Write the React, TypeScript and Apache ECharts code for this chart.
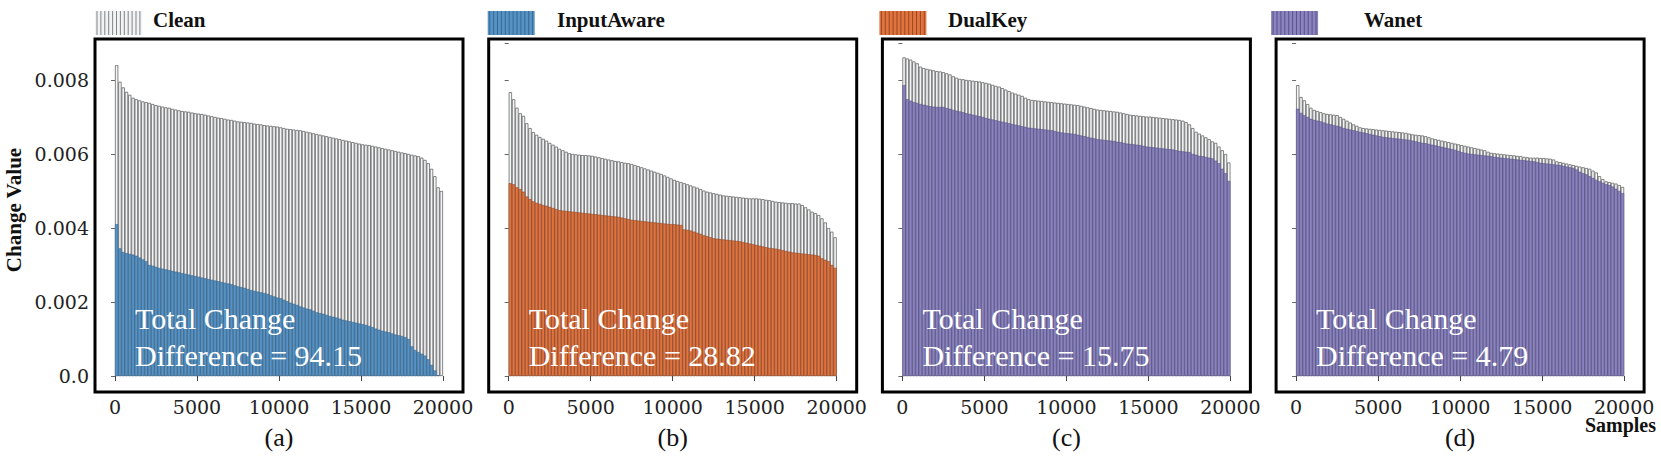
import React, { useEffect, useRef } from "react";
import * as echarts from "echarts";

// values in units of 1e-5
const clean1 = [840,795,780,768,760,752,748,745,742,740,738,735,732,730,728,726,725,722,720,718,716,715,714,712,710,709,708,706,704,702,700,698,697,695,693,692,690,688,687,686,685,684,682,681,680,678,677,676,675,674,672,670,668,667,666,665,664,662,660,658,656,654,652,650,648,646,644,642,640,638,636,634,632,630,628,626,625,624,622,620,618,616,614,612,610,608,606,604,602,600,598,596,594,590,584,575,560,540,510,500];
const inputAware = [410,345,335,332,330,328,325,320,315,310,300,298,295,292,290,288,286,284,282,280,278,276,274,272,270,268,266,264,262,260,258,256,254,252,250,248,245,242,240,238,235,232,230,228,226,224,222,218,215,212,210,206,202,198,195,192,188,185,182,180,176,172,170,168,165,162,160,158,155,152,150,148,146,144,142,140,138,135,132,128,125,122,120,118,115,112,110,108,105,100,80,70,65,60,55,45,30,15,2,-5];
const clean2 = [767,748,725,710,703,683,670,659,652,646,641,636,630,625,620,614,610,606,602,600,599,598,597,597,596,595,593,591,589,587,585,583,581,580,578,576,575,573,570,567,564,561,558,555,552,549,546,542,538,534,530,527,524,521,518,515,512,509,505,501,498,496,494,492,490,488,487,486,485,484,483,482,481,480,480,480,479,478,476,475,473,471,470,469,468,467,467,466,466,462,456,450,444,440,435,426,415,400,390,375];
const dualKey = [521,518,510,505,498,485,478,472,468,465,462,460,457,454,451,448,447,446,445,444,443,442,441,440,439,438,437,436,435,434,433,432,431,430,428,426,424,422,421,420,419,418,417,416,415,414,413,412,411,410,410,409,408,396,395,393,390,387,384,380,378,375,372,371,370,369,368,367,366,365,364,362,360,358,356,354,352,350,348,346,345,344,342,340,338,336,334,333,332,331,330,329,328,327,325,318,314,310,300,292];
const clean3 = [861,858,855,850,845,836,832,830,828,826,824,823,821,818,815,810,806,803,802,800,799,798,797,796,794,792,790,787,784,782,778,774,770,766,763,760,757,752,748,746,745,744,743,742,741,740,739,738,737,736,735,734,733,732,730,728,726,724,722,720,719,718,717,716,715,714,712,710,708,706,705,704,703,702,701,701,700,699,698,697,696,695,694,693,692,690,686,680,670,660,655,650,645,640,634,630,620,610,600,577];
const wanet3 = [786,748,744,740,738,735,733,731,729,728,727,727,727,724,722,719,717,715,713,710,708,706,704,702,700,697,695,693,691,689,687,685,683,681,679,677,675,673,671,670,669,668,667,666,665,664,662,660,658,657,656,655,654,652,650,648,646,644,642,640,639,638,637,636,635,633,632,630,628,627,626,625,624,622,620,619,618,617,616,615,614,613,612,610,608,607,606,605,600,598,595,594,592,590,588,582,575,560,548,527];
const clean4 = [786,754,745,735,725,719,716,713,710,708,707,706,705,700,695,690,685,680,676,672,670,669,668,667,666,665,664,663,662,661,660,659,658,657,655,653,652,651,650,648,645,642,640,638,636,634,632,630,628,626,624,622,620,618,616,614,612,610,606,603,602,601,600,599,598,597,596,595,594,592,591,590,590,590,589,589,588,587,585,580,578,576,574,572,570,568,566,564,562,560,555,550,540,532,526,524,522,520,516,511];
const wanet4 = [722,711,705,700,695,692,690,688,685,682,680,678,676,674,670,668,666,664,662,660,658,656,654,652,650,648,646,645,644,643,642,641,640,639,638,636,634,632,630,629,627,625,623,621,619,617,615,613,611,608,605,603,601,600,599,598,597,596,595,594,592,591,590,589,588,587,586,585,584,583,582,581,580,578,576,575,574,573,572,571,570,568,566,564,562,558,552,548,545,540,535,530,526,522,518,516,512,506,500,494];

const legendNames = ["Clean", "InputAware", "DualKey", "Wanet"];
const panelLabels = ["(a)", "(b)", "(c)", "(d)"];
const totals = ["94.15", "28.82", "15.75", "4.79"];

const BLUE = "#5692c4", ORANGE = "#e07440", PURPLE = "#8a83bd";
const panels = [
  { clean: clean1, atk: inputAware, color: BLUE, edge: "#2e5f86" },
  { clean: clean2, atk: dualKey, color: ORANGE, edge: "#8a3c18" },
  { clean: clean3, atk: wanet3, color: PURPLE, edge: "#4d4780" },
  { clean: clean4, atk: wanet4, color: PURPLE, edge: "#4d4780" },
];
const legendColors = [{ f: "#f2f3f5", s: "#666" }, { f: BLUE, s: "#2e5f86" }, { f: ORANGE, s: "#8a3c18" }, { f: PURPLE, s: "#4d4780" }];
const legendText = [153, 557, 948, 1364];

const SERIF = "Liberation Serif";
const DSERIF = "DejaVu Serif";

export default function App() {
  const ref = useRef<HTMLDivElement>(null);
  useEffect(() => {
    document.body.style.margin = "0";
    const chart = echarts.init(ref.current!, null, { renderer: "svg" });
    const step = 393.7;
    const cats = clean1.map((_, i) => String(i));
    const grid: any[] = [], xAxis: any[] = [], yAxis: any[] = [], series: any[] = [], graphic: any[] = [];
    const txt = (x: number, y: number, text: string, size: number, opts: any = {}) => ({
      type: "text", x, y, rotation: opts.rotation || 0, z: 20,
      style: {
        text, fill: opts.fill || "#111", fontFamily: SERIF, fontSize: size,
        fontWeight: opts.bold ? "bold" : "normal", textAlign: opts.align || "left", textVerticalAlign: "middle",
      },
    });
    panels.forEach((p, k) => {
      const fx = 95 + k * step;
      grid.push({ left: fx + 20, top: 43, width: 328, height: 333 });
      xAxis.push({ type: "category", gridIndex: k, data: cats, show: false, boundaryGap: true, position: "bottom" });
      xAxis.push({
        type: "value", gridIndex: k, min: 0, max: 20000, interval: 5000, position: "bottom",
        axisLine: { show: false }, splitLine: { show: false },
        axisTick: { show: true, length: 5, lineStyle: { color: "#444" } },
        axisLabel: { margin: 21, fontFamily: DSERIF, fontSize: 19, color: "#222", formatter: (v: number) => String(v) },
      });
      yAxis.push({
        type: "value", gridIndex: k, min: 0, max: 0.009, interval: 0.002, offset: 20,
        axisLine: { show: false }, splitLine: { show: false },
        axisTick: { show: true, length: 4, lineStyle: { color: "#666" } },
        axisLabel: {
          show: k === 0, margin: 6, fontFamily: DSERIF, fontSize: 19, color: "#222", showMaxLabel: false,
          formatter: (v: number) => (v === 0 ? "0.0" : v.toFixed(3)),
        },
      });
      const xi = k * 2;
      series.push({
        type: "bar", xAxisIndex: xi, yAxisIndex: k, data: p.clean.map((v) => v / 1e5),
        barWidth: "100%", barGap: "-100%",
        itemStyle: { color: "#f4f5f7", borderColor: "#555", borderWidth: 0.7 },
      });
      series.push({
        type: "bar", xAxisIndex: xi, yAxisIndex: k, data: p.atk.map((v) => v / 1e5),
        barWidth: "100%", barGap: "-100%",
        itemStyle: { color: p.color, borderColor: p.edge, borderWidth: 0.5 },
      });
      graphic.push({ type: "rect", shape: { x: fx, y: 39, width: 368, height: 353 }, style: { fill: "none", stroke: "#000", lineWidth: 3 }, z: 10 });
      graphic.push(txt(fx + 40, 318, "Total Change", 30, { fill: "#fff" }));
      graphic.push(txt(fx + 40, 355, `Difference = ${totals[k]}`, 30, { fill: "#fff" }));
      graphic.push(txt(fx + 184, 437, panelLabels[k], 26, { align: "center" }));
      const lx = 95 + k * step - (k === 3 ? 5 : k === 2 ? 3 : k === 1 ? 1 : 0);
      const lc = legendColors[k];
      const kids: any[] = [{ type: "rect", shape: { x: 0, y: 0, width: 47, height: 24 }, style: { fill: lc.f } }];
      for (let s = 0; s < 12; s++) {
        kids.push({ type: "line", shape: { x1: 2 + s * 3.9, y1: 0, x2: 2 + s * 3.9, y2: 24 }, style: { stroke: lc.s, lineWidth: 1, opacity: 0.8 } });
      }
      graphic.push({ type: "group", x: lx, y: 11, children: kids });
      graphic.push(txt(legendText[k], 20, legendNames[k], 21, { bold: true }));
    });
    graphic.push(txt(14, 210, "Change Value", 21, { bold: true, align: "center", rotation: Math.PI / 2 }));
    graphic.push(txt(1656, 425, "Samples", 20, { bold: true, align: "right" }));
    chart.setOption({ animation: false, grid, xAxis, yAxis, series, graphic });
    return () => chart.dispose();
  }, []);
  return <div ref={ref} style={{ width: 1661, height: 456 }} />;
}
